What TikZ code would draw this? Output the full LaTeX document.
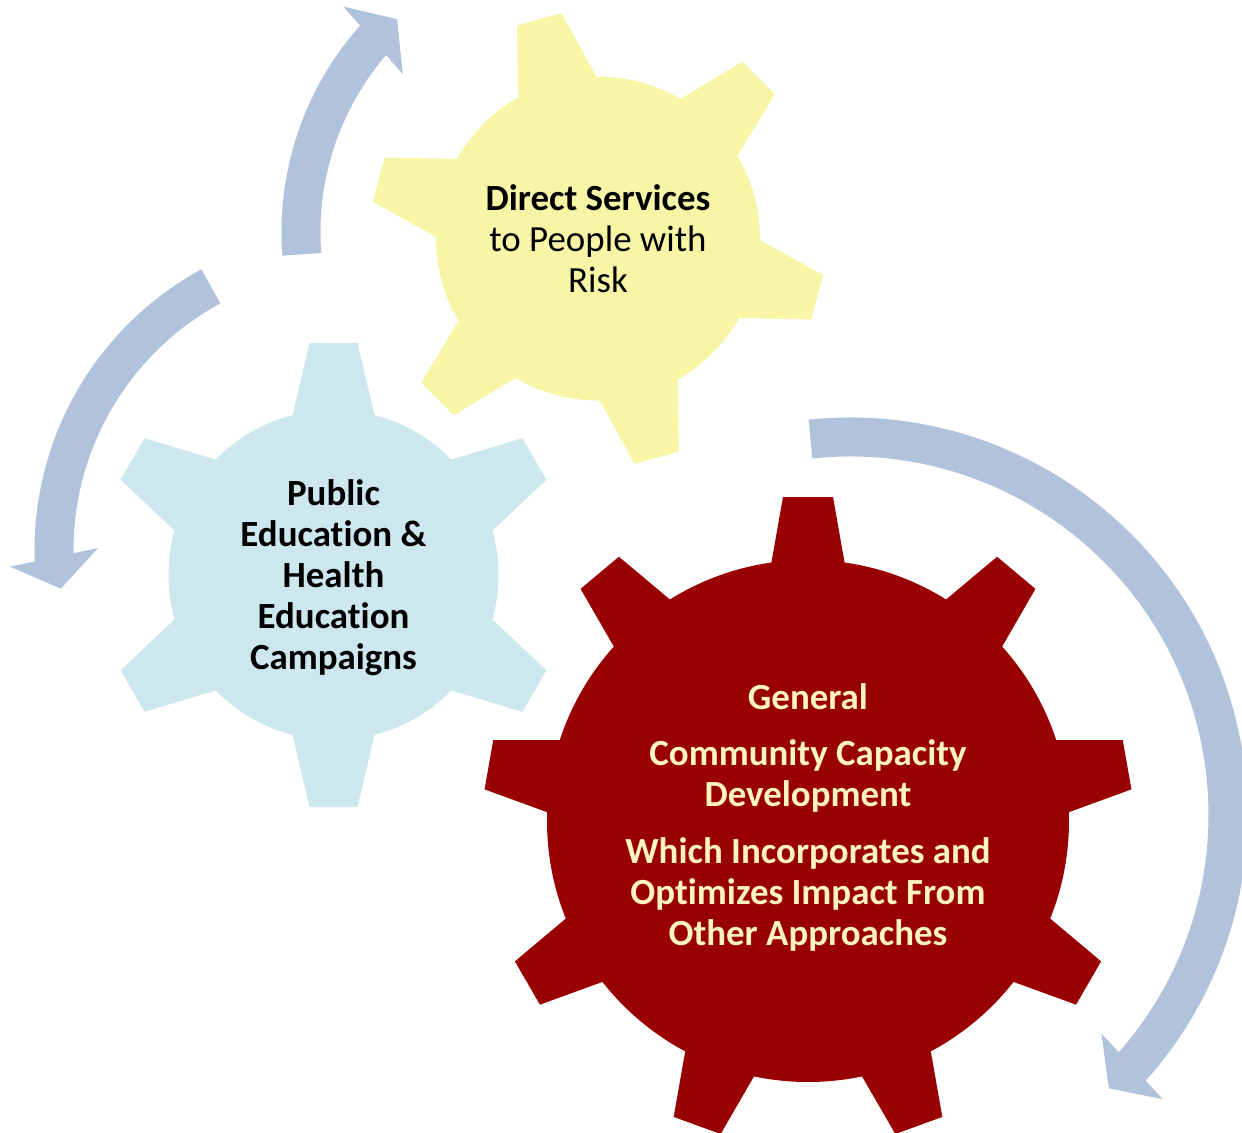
\documentclass[tikz,border=0pt]{standalone}
\usepackage{fontspec}
\setmainfont{Carlito}[Ligatures=NoCommon]
\usetikzlibrary{calc}
\definecolor{gearyellow}{HTML}{F8F6A6}
\definecolor{gearblue}{HTML}{CDE7EE}
\definecolor{gearred}{HTML}{990000}
\definecolor{arrowblue}{HTML}{B1C2DC}
\definecolor{creamtext}{HTML}{FFF4C0}
\tikzset{
  gearlabel/.style={align=center, font=\fontsize{10.5pt}{11.66pt}\selectfont},
  boldlabel/.style={gearlabel, font=\fontsize{10.5pt}{11.66pt}\selectfont\bfseries},
  cyclearrow/.style={draw=arrowblue, line width=3.9mm},
  arrowhead/.style={fill=arrowblue},
}

\begin{document}
\begin{tikzpicture}[x=0.1mm, y=0.1mm]
      \clip (0,0) rectangle (1242,-1133);

      \coordinate (bluec) at (333.5,-575);
      \coordinate (yellowc) at (598,-238.5);
      \coordinate (redc) at (808,-821);

      \coordinate (arcA) at (592,-232);
      \coordinate (arcB) at (354,-550);
      \coordinate (arcC) at (850,-815);

      \fill[gearblue] (bluec) circle (165);
      \foreach \a in {30,90,...,330}
        \fill[gearblue, shift={(bluec)}, rotate=\a] (130,-48) -- (232,-24) -- (232,24) -- (130,48) -- cycle;

      \fill[gearyellow] (yellowc) circle (162);
      \foreach \a in {-15,45,...,285}
        \fill[gearyellow, shift={(yellowc)}, rotate=\a] (130,-47) -- (227,-23) -- (227,23) -- (130,47) -- cycle;

      \fill[gearred] (redc) circle (261);
      \foreach \a in {90,130,...,410}
        \fill[gearred, shift={(redc)}, rotate=\a] (220,-43.4) -- (324,-25) -- (324,25) -- (220,43.4) -- cycle;

      \coordinate (headA) at ($(arcA)+(138.8:291)$);
      \coordinate (headB) at ($(arcB)+(181.4:300)$);
      \coordinate (headC) at ($(arcC)+(-41.7:378)$);

      \draw[cyclearrow] ($(arcA)+(184.4:291)$) arc[start angle=184.4, end angle=137.6, radius=291];
      \fill[arrowhead] ($(headA)+(131.4:45)$) -- ($(headA)+(41.4:32)$) -- ($(headA)+(311.4:45)$) -- cycle;

      \draw[cyclearrow] ($(arcB)+(118.5:300)$) arc[start angle=118.5, end angle=182.6, radius=300];
      \fill[arrowhead] ($(headB)+(192:45)$) -- ($(headB)+(282:32)$) -- ($(headB)+(12:45)$) -- cycle;

      \draw[cyclearrow] ($(arcC)+(96:378)$) arc[start angle=96, end angle=-42.6, radius=378];
      \fill[arrowhead] ($(headC)+(-46.8:45)$) -- ($(headC)+(-136.8:32)$) -- ($(headC)+(133.2:45)$) -- cycle;

      \node[gearlabel] (direct) at (598,-239) {\textbf{Direct Services}\\to People with\\Risk};
      \node[boldlabel] (public) at (333.5,-578) {Public\\Education \&\\Health\\Education\\Campaigns};
      \node[boldlabel, text=creamtext] (general) at (808,-817)
        {General\\[1.55mm]Community Capacity\\Development\\[1.55mm]Which Incorporates and\\Optimizes Impact From\\Other Approaches};

\end{tikzpicture}
\end{document}
